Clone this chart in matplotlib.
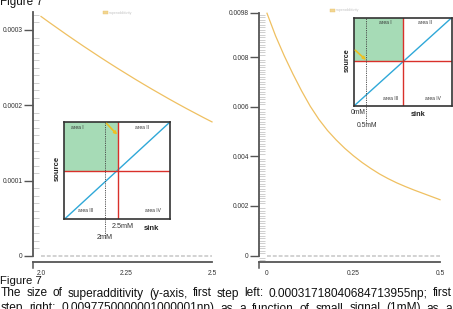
import matplotlib
matplotlib.use("Agg")
import matplotlib.pyplot as plt
from matplotlib.patches import Patch, Rectangle
from matplotlib.ticker import MultipleLocator, FixedLocator, FixedFormatter

plt.rcParams['font.family'] = ['Liberation Sans', 'DejaVu Sans']

# ---------------- data ----------------
left_x = [2.0, 2.025, 2.05, 2.075, 2.1, 2.125, 2.15, 2.175, 2.2, 2.225, 2.25,
          2.275, 2.3, 2.325, 2.35, 2.375, 2.4, 2.425, 2.45, 2.475, 2.5]
left_y = [0.0003180, 0.0003098, 0.0003018, 0.0002938, 0.0002860, 0.0002783,
          0.0002708, 0.0002633, 0.0002560, 0.0002488, 0.0002418, 0.0002348,
          0.0002280, 0.0002213, 0.0002148, 0.0002083, 0.0002020, 0.0001958,
          0.0001898, 0.0001838, 0.0001780]
left_xticks = [2.0, 2.25, 2.5]
left_xticklabels = ["2.0", "2.25", "2.5"]
left_yticks = [0, 0.0001, 0.0002, 0.0003]
left_yticklabels = ["0", "0.0001", "0.0002", "0.0003"]

right_x = [0.0, 0.025, 0.05, 0.075, 0.1, 0.125, 0.15, 0.175, 0.2, 0.225, 0.25,
           0.275, 0.3, 0.325, 0.35, 0.375, 0.4, 0.425, 0.45, 0.475, 0.5]
right_y = [0.00977, 0.00885, 0.00805, 0.00732, 0.00664, 0.00602, 0.00549,
           0.00504, 0.00466, 0.00432, 0.00402, 0.00375, 0.00351, 0.00329,
           0.00310, 0.00293, 0.00278, 0.00264, 0.00251, 0.00238, 0.00225]
right_xticks = [0, 0.25, 0.5]
right_xticklabels = ["0", "0.25", "0.5"]
right_yticks = [0, 0.002, 0.004, 0.006, 0.008, 0.0098]
right_yticklabels = ["0", "0.002", "0.004", "0.006", "0.008", "0.0098"]

legend_label = "superadditivity"

# inset schematic (unit square coordinates)
inset_labels = ["area I", "area II", "area III", "area IV"]
left_inset_split = (0.509, 0.495)
left_inset_dashed_x = 0.387
right_inset_split = (0.503, 0.508)
right_inset_dashed_x = 0.12

caption_title = "Figure 7"
caption_line1 = "The size of superadditivity (y-axis, first step left: 0.00031718040684713955np; first"
caption_line2 = "step right: 0.0097750000001000001np) as a function of small signal (1mM) as a"

# ---------------- style ----------------
W, H = 453, 309
CURVE = "#efc061"
SPINE = "#555555"
MINOR = "#c8c8c8"
GREEN = "#a6dbb6"
RED = "#d9302a"
BLUE = "#2fa8d8"
ARROW = "#efc020"

fig = plt.figure(figsize=(W / 100, H / 100), dpi=100)


def px_axes(x0, y0, x1, y1):
    return fig.add_axes([x0 / W, 1 - y1 / H, (x1 - x0) / W, (y1 - y0) / H])


def style_main(ax, xlim, ylim, xticks, xtl, yticks, ytl, minor_step):
    ax.set_xlim(*xlim)
    ax.set_ylim(*ylim)
    for s in ("top", "right"):
        ax.spines[s].set_visible(False)
    for s in ("left", "bottom"):
        ax.spines[s].set_color(SPINE)
        ax.spines[s].set_linewidth(1.3)
    ax.spines["left"].set_bounds(0, ylim[1])
    ax.xaxis.set_major_locator(FixedLocator(xticks))
    ax.xaxis.set_major_formatter(FixedFormatter(xtl))
    ax.yaxis.set_major_locator(FixedLocator(yticks))
    ax.yaxis.set_major_formatter(FixedFormatter(ytl))
    ax.yaxis.set_minor_locator(MultipleLocator(minor_step))
    ax.tick_params(axis="x", length=0, pad=5.5, labelsize=4.8, labelcolor="#333333")
    ax.tick_params(axis="y", which="major", direction="out", length=6.5, width=1,
                   color=SPINE, pad=0.8, labelsize=4.8, labelcolor="#333333")
    ax.tick_params(axis="y", which="minor", direction="in", length=4.3, width=0.6,
                   color=MINOR)
    ax.plot([0, 0], [0, -0.024], transform=ax.transAxes, color=SPINE, lw=1.1,
            clip_on=False)


def add_legend(ax, fx, fy):
    h = Patch(facecolor="#f2d590", edgecolor="#e8c470", linewidth=0.3)
    ax.legend([h], [legend_label], loc="center left",
              bbox_to_anchor=(fx / W, 1 - fy / H), bbox_transform=fig.transFigure,
              frameon=False, fontsize=2.6, labelcolor="#c4c4c4",
              handlelength=1.4, handleheight=0.8, handletextpad=0.3,
              borderpad=0, borderaxespad=0)


# ---------------- left panel ----------------
axL = px_axes(33, 12, 212, 262)
yscaleL = 0.0003 / (256 - 30)
style_main(axL, (2.0 - 8 / 342, 2.5), (-6 * yscaleL, 244 * yscaleL),
           left_xticks, left_xticklabels, left_yticks, left_yticklabels, 0.00001)
axL.plot([left_x[0], left_x[-1]], [0, 0], color="#d2d2d2", lw=1.4,
         ls=(0, (2, 1)), clip_on=False)
axL.plot(left_x, left_y, color=CURVE, lw=0.9, clip_on=False, zorder=3)
add_legend(axL, 103, 13)

# ---------------- right panel ----------------
axR = px_axes(259, 12.5, 440, 262)
yscaleR = 0.001 / 24.8
style_main(axR, (-(267 - 259) / 346.7, 0.5), (-6.5 * yscaleR, 0.0098),
           right_xticks, right_xticklabels, right_yticks, right_yticklabels, 0.0001)
axR.plot([right_x[0], right_x[-1]], [0, 0], color="#d2d2d2", lw=1.4,
         ls=(0, (2, 1)), clip_on=False)
axR.plot(right_x, right_y, color=CURVE, lw=0.9, clip_on=False, zorder=3)
add_legend(axR, 330, 10.5)


# ---------------- insets ----------------
def draw_inset(ax, split, dashed_x, dashed_bottom, arrow_from, arrow_to,
               label_pos, label_size):
    ax.set_xlim(0, 1)
    ax.set_ylim(0, 1)
    ax.set_xticks([])
    ax.set_yticks([])
    ax.set_facecolor("white")
    for s in ax.spines.values():
        s.set_color("#333333")
        s.set_linewidth(1.2)
        s.set_zorder(6)
    sx, sy = split
    ax.add_patch(Rectangle((0, sy), sx, 1 - sy, facecolor=GREEN, edgecolor="none",
                           zorder=1))
    ax.plot([0, 1], [0, 1], color=BLUE, lw=1.0, zorder=3)
    ax.plot([sx, sx], [0, 1], color=RED, lw=1.0, zorder=4)
    ax.plot([0, 1], [sy, sy], color=RED, lw=1.0, zorder=4)
    ax.plot([dashed_x, dashed_x], [dashed_bottom, 1], color="#444444", lw=0.6,
            ls=(0, (1.5, 1.2)), clip_on=False, zorder=5)
    ax.annotate("", xy=arrow_to, xytext=arrow_from,
                arrowprops=dict(arrowstyle="-|>", color=ARROW, lw=1.2,
                                mutation_scale=4, shrinkA=0, shrinkB=0),
                zorder=7)
    for lab, (lx, ly) in zip(inset_labels, label_pos):
        ax.text(lx, ly, lab, fontsize=label_size, ha="center", va="center",
                color="#333333", zorder=6)


axIL = px_axes(64.3, 122, 170, 219.3)
draw_inset(axIL, left_inset_split, left_inset_dashed_x, -0.19,
           (0.40, 0.985), (0.50, 0.87),
           [(0.125, 0.94), (0.733, 0.94), (0.198, 0.093), (0.842, 0.093)], 3.5)
axIL.text(-0.063, 0.52, "source", rotation=90, fontsize=5.6, fontweight="bold",
          ha="center", va="center", color="#222222")
axIL.text(0.827, -0.09, "sink", fontsize=5.5, fontweight="bold",
          ha="center", va="center", color="#222222")
axIL.text(0.553, -0.072, "2.5mM", fontsize=5.2, ha="center", va="center",
          color="#333333")
axIL.text(0.387, -0.19, "2mM", fontsize=5.2, ha="center", va="center",
          color="#333333", bbox=dict(facecolor="white", edgecolor="none", pad=0.3))

axIR = px_axes(354.3, 17.7, 451.7, 105.7)
draw_inset(axIR, right_inset_split, right_inset_dashed_x, -0.2,
           (0.01, 0.63), (0.12, 0.52),
           [(0.316, 0.94), (0.726, 0.95), (0.376, 0.084), (0.81, 0.084)], 3.5)
axIR.text(-0.068, 0.52, "source", rotation=90, fontsize=5.2, fontweight="bold",
          ha="center", va="center", color="#222222")
axIR.text(0.657, -0.1, "sink", fontsize=5.3, fontweight="bold",
          ha="center", va="center", color="#222222")
axIR.text(0.04, -0.08, "0mM", fontsize=4.9, ha="center", va="center",
          color="#333333")
axIR.text(0.127, -0.22, "0.5mM", fontsize=4.9, ha="center", va="center",
          color="#333333", bbox=dict(facecolor="white", edgecolor="none", pad=0.3))

# ---------------- captions ----------------
fig.text(0.5 / W, 1 - 5 / H, caption_title, fontsize=8.4, va="baseline", ha="left",
         color="#111111")
fig.text(0.5 / W, 1 - 284 / H, caption_title, fontsize=8.2, va="baseline", ha="left",
         color="#111111")

renderer = fig.canvas.get_renderer()


def justified(line, y_px, x0_px, x1_px, size):
    words = line.split(" ")
    texts = [fig.text(0, 1 - y_px / H, w, fontsize=size, va="baseline", ha="left",
                      color="#111111") for w in words]
    widths = [t.get_window_extent(renderer).width for t in texts]
    gap = (x1_px - x0_px - sum(widths)) / max(len(words) - 1, 1)
    gap = max(gap, size * 100 / 72 * 0.28)
    x = x0_px
    for t, w in zip(texts, widths):
        t.set_x(x / W)
        x += w + gap


justified(caption_line1, 296.5, 0.5, 452, 8.6)
justified(caption_line2, 311.5, 0.5, 452, 8.6)

fig.savefig("out.png", dpi=100, facecolor="white")
